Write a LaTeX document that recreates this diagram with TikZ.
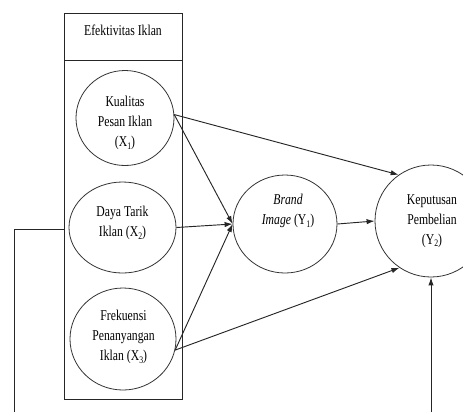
\documentclass[tikz,border=0pt]{standalone}
\usepackage{fontspec}
\setmainfont{Liberation Serif}[FakeStretch=0.78]
\usetikzlibrary{arrows.meta,shapes.geometric}
\newcommand\lowidx[1]{\raisebox{-0.35ex}{\fontsize{7.5}{7.5}\selectfont #1}}
\begin{document}
\begin{tikzpicture}[x=0.75pt,y=-0.75pt,
  frame/.style={draw=black!85,line width=0.7pt,minimum width=88.5pt,inner sep=0pt},
  var/.style={draw=black!80,line width=0.6pt,ellipse,inner sep=0pt},
  lbl/.style={align=center,inner sep=0pt,font=\fontsize{11.25}{15}\selectfont},
  arr/.style={draw=black!85,line width=0.7pt,-{Latex[length=6pt,width=4pt]}},
  ln/.style={draw=black!85,line width=0.7pt}]
\useasboundingbox (0,0) rectangle (463,412);
\clip (0,0) rectangle (463,412);
% frames
\node[frame,minimum height=35.25pt] (hdr) at (123,36.5) {};
\node[lbl] (hdrt) at (123,30) {Efektivitas Iklan};
\node[frame,minimum height=254.25pt] (box) at (123,229.5) {};
% variables
\node[var,minimum width=73.5pt,minimum height=71.25pt] (X1) at (125,118) {};
\node[lbl] (X1t) at (125,123) {Kualitas\\Pesan Iklan\\(X\lowidx{1})};
\node[var,minimum width=80.25pt,minimum height=68.25pt] (X2) at (122.5,227.5) {};
\node[lbl] (X2t) at (122.5,223) {Daya Tarik\\Iklan (X\lowidx{2})};
\node[var,minimum width=79.5pt,minimum height=76.5pt] (X3) at (123,339) {};
\node[lbl] (X3t) at (123.5,337) {Frekuensi\\Penanyangan\\Iklan (X\lowidx{3})};
\node[var,minimum width=78pt,minimum height=73.5pt] (B) at (285,224) {};
\node[lbl] (Bt) at (288,211) {\itshape Brand\\\textit{Image} (Y\lowidx{1})};
\node[var,circle,minimum size=84pt] (K) at (431,221) {};
\node[lbl] (Kt) at (432,221) {Keputusan\\Pembelian\\(Y\lowidx{2})};
% connectors
\draw[arr] (X1.4) -- (K.125);
\draw[arr] (X1.4) -- (B.west);
\draw[arr] (X2.east) -- (B.west);
\draw[arr] (X3.-12) -- (B.west);
\draw[arr] (X3.-12) -- (K.236);
\draw[arr] (B.east) -- (K.west);
\coordinate (Kin) at (431,412);
\draw[arr] (Kin) -- (K.south);
\coordinate (Lend) at (14,412);
\draw[ln] (box.west) -| (Lend);
\end{tikzpicture}
\end{document}
